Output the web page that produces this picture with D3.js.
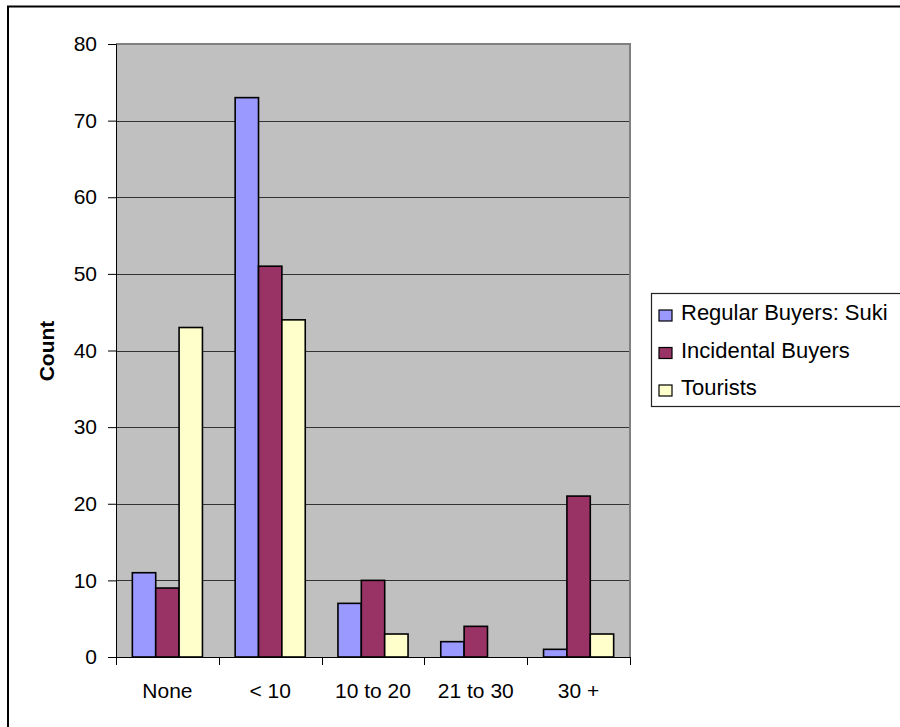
<!DOCTYPE html>
<html>
<head>
<meta charset="utf-8">
<script src="https://cdn.jsdelivr.net/npm/d3@7"></script>
<style>
  html, body { margin: 0; padding: 0; background: #fff; }
  svg { display: block; }
  text { font-family: "Liberation Sans", Arial, sans-serif; fill: #000; }
</style>
</head>
<body>
<svg id="chart" width="900" height="727"></svg>
<script>
// Purchase frequency categories and counts per respondent group
const categories = ["None", "< 10", "10 to 20", "21 to 30", "30 +"];
const seriesNames = ["Regular Buyers: Suki", "Incidental Buyers", "Tourists"];
const regularBuyers = [11, 73, 7, 2, 1];
const incidentalBuyers = [9, 51, 10, 4, 21];
const tourists = [43, 44, 3, 0, 3];
const yTicks = [0, 10, 20, 30, 40, 50, 60, 70, 80];
const seriesColors = ["#9999ff", "#993366", "#ffffcc"];

const seriesValues = [regularBuyers, incidentalBuyers, tourists];
const FONT = 21;
const LEGEND_FONT = 22;

const svg = d3.select("#chart");

// Outer chart frame (runs off the right and bottom edges)
svg.append("path")
  .attr("d", "M8,760 L8,6.5 L920,6.5")
  .attr("fill", "none")
  .attr("stroke", "#000")
  .attr("stroke-width", 2);

const plot = { left: 116, top: 44, right: 630, bottom: 657 };

const x = d3.scaleBand()
  .domain(categories)
  .range([plot.left, plot.right]);

const xInner = d3.scaleBand()
  .domain(seriesNames)
  .range([0, x.bandwidth()])
  .paddingOuter(0.7)
  .paddingInner(0);

const y = d3.scaleLinear()
  .domain([0, 80])
  .range([plot.bottom, plot.top]);

// Plot area background
svg.append("rect")
  .attr("x", plot.left)
  .attr("y", plot.top)
  .attr("width", plot.right - plot.left)
  .attr("height", plot.bottom - plot.top)
  .attr("fill", "#c0c0c0");

// Horizontal gridlines
svg.append("g")
  .selectAll("line")
  .data(yTicks.filter(d => d > 0 && d < 80))
  .join("line")
  .attr("x1", plot.left)
  .attr("x2", plot.right)
  .attr("y1", d => Math.round(y(d)) + 0.5)
  .attr("y2", d => Math.round(y(d)) + 0.5)
  .attr("stroke", "#333")
  .attr("stroke-width", 1);

// Plot border (top and right)
svg.append("path")
  .attr("d", `M${plot.left},${plot.top} L${plot.right},${plot.top} L${plot.right},${plot.bottom}`)
  .attr("fill", "none")
  .attr("stroke", "#808080")
  .attr("stroke-width", 2);

// Bars
const groups = svg.append("g")
  .selectAll("g")
  .data(categories)
  .join("g")
  .attr("transform", d => `translate(${x(d)},0)`);

groups.selectAll("rect")
  .data((c, i) => seriesNames.map((s, j) => ({ s, j, v: seriesValues[j][i] })))
  .join("rect")
  .filter(d => d.v > 0)
  .attr("x", d => xInner(d.s))
  .attr("y", d => y(d.v))
  .attr("width", xInner.bandwidth())
  .attr("height", d => y(0) - y(d.v))
  .attr("fill", d => seriesColors[d.j])
  .attr("stroke", "#000")
  .attr("stroke-width", 1.6);

// Y axis
const yAxis = d3.axisLeft(y)
  .tickValues(yTicks)
  .tickSize(8)
  .tickPadding(11);

const yg = svg.append("g")
  .attr("transform", `translate(${plot.left},0)`)
  .call(yAxis);
yg.select(".domain").attr("stroke", "#000");
yg.selectAll(".tick line").attr("stroke", "#000");
yg.selectAll(".tick text")
  .attr("font-size", FONT)
  .style("font-family", "'Liberation Sans', Arial, sans-serif");

// X axis with ticks between categories
const xg = svg.append("g")
  .attr("transform", `translate(0,${plot.bottom})`);
xg.append("line")
  .attr("x1", plot.left).attr("x2", plot.right)
  .attr("y1", 0.5).attr("y2", 0.5)
  .attr("stroke", "#000");
const boundaries = categories.map(c => x(c)).concat([x(categories[categories.length - 1]) + x.bandwidth()]);
xg.selectAll("line.tick")
  .data(boundaries)
  .join("line")
  .attr("class", "tick")
  .attr("x1", d => Math.round(d) + 0.5)
  .attr("x2", d => Math.round(d) + 0.5)
  .attr("y1", 0)
  .attr("y2", 8)
  .attr("stroke", "#000");
xg.selectAll("text")
  .data(categories)
  .join("text")
  .attr("x", d => x(d) + x.bandwidth() / 2)
  .attr("y", 41)
  .attr("text-anchor", "middle")
  .attr("font-size", FONT)
  .text(d => d);

// Y axis title
svg.append("text")
  .attr("transform", `translate(54,351) rotate(-90)`)
  .attr("text-anchor", "middle")
  .attr("font-size", FONT)
  .attr("font-weight", "bold")
  .text("Count");

// Legend
const legend = svg.append("g").attr("transform", "translate(651,293)");
legend.append("rect")
  .attr("x", 0.5).attr("y", 0.5)
  .attr("width", 300).attr("height", 113)
  .attr("fill", "#fff")
  .attr("stroke", "#222")
  .attr("stroke-width", 1.2);

const items = legend.selectAll("g.item")
  .data(seriesNames)
  .join("g")
  .attr("class", "item")
  .attr("transform", (d, i) => `translate(0,${27 + i * 37.5})`);
items.append("rect")
  .attr("x", 8).attr("y", -10)
  .attr("width", 13).attr("height", 11)
  .attr("fill", (d, i) => seriesColors[i])
  .attr("stroke", "#000")
  .attr("stroke-width", 1.2);
items.append("text")
  .attr("x", 30)
  .attr("y", 0)
  .attr("font-size", LEGEND_FONT)
  .text(d => d);
</script>
</body>
</html>
